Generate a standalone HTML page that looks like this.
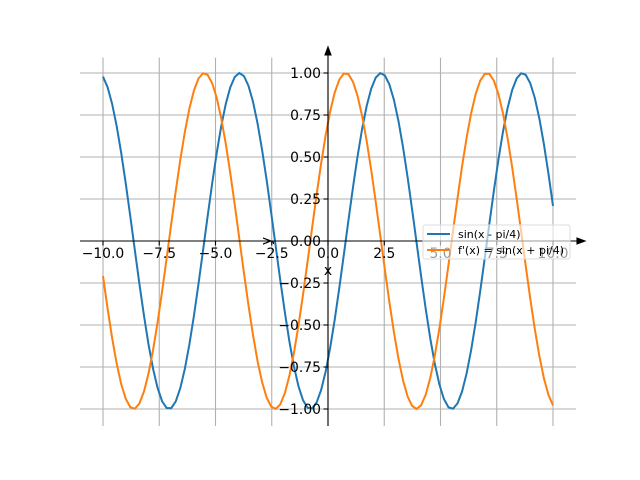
<!DOCTYPE html>
<html><head><meta charset="utf-8"><style>body{margin:0;background:#fff}svg{display:block}</style></head>
<body>
<svg id="s" width="640" height="480" xmlns="http://www.w3.org/2000/svg" font-family="DejaVu Sans, Liberation Sans, sans-serif" font-size="13.9">
<g id="grid" stroke="#b0b0b0" stroke-width="1.1"></g>
<g id="curves" fill="none" stroke-width="2"></g>
<g id="axes" stroke="#000" stroke-width="1.1"></g>
<g id="labels" fill="#000"></g>
</svg>
<script>
const ns="http://www.w3.org/2000/svg";
const X=x=>328+x*22.5, Y=y=>241-y*168;
function el(p,t,a,txt){const e=document.createElementNS(ns,t);for(const k in a)e.setAttribute(k,a[k]);if(txt!==undefined)e.textContent=txt;document.getElementById(p).appendChild(e);return e;}
for(let v=-10;v<=10;v+=2.5){el('grid','line',{x1:X(v),x2:X(v),y1:57.6,y2:426});}
for(let v=-1;v<=1.001;v+=0.25){el('grid','line',{x1:80,x2:576,y1:Y(v),y2:Y(v)});}
function pts(f){let s=[];for(let i=0;i<100;i++){const x=-10+20*i/99;s.push(X(x).toFixed(2)+','+Y(f(x)).toFixed(2));}return s.join(' ');}
el('curves','polyline',{points:pts(x=>Math.sin(x-Math.PI/4)),stroke:'#1f77b4'});
el('curves','polyline',{points:pts(x=>Math.sin(x+Math.PI/4)),stroke:'#ff7f0e'});
el('axes','line',{x1:328,x2:328,y1:55,y2:426});
el('axes','line',{x1:80,x2:578,y1:241,y2:241});
el('axes','polygon',{points:'328,47 325,55 331,55',fill:'#000'});
el('axes','polygon',{points:'585,241 577,238 577,244',fill:'#000'});
for(let v=-10;v<=10;v+=2.5){el('axes','line',{x1:X(v),x2:X(v),y1:241,y2:245.5});
 el('labels','text',{x:X(v),y:258,'text-anchor':'middle'},(v<0?'\u2212':'')+Math.abs(v).toFixed(1));}
for(let v=-1;v<=1.001;v+=0.25){el('axes','line',{x1:323.5,x2:328,y1:Y(v),y2:Y(v)});
 el('labels','text',{x:321,y:Y(v)+5,'text-anchor':'end'},(v<-0.001?'\u2212':'')+Math.abs(v).toFixed(2));}
el('labels','text',{x:328,y:275,'text-anchor':'middle'},'x');
el('labels','text',{x:0,y:0,'text-anchor':'middle',transform:'translate(271,241) rotate(-90)'},'y');
el('labels','rect',{x:423,y:225,width:147,height:34,rx:2,fill:'#fff','fill-opacity':0.6,stroke:'#ddd','stroke-width':1});
el('labels','line',{x1:427,x2:450,y1:234,y2:234,stroke:'#1f77b4','stroke-width':2});
el('labels','line',{x1:427,x2:450,y1:250,y2:250,stroke:'#ff7f0e','stroke-width':2});
el('labels','text',{x:458,y:238,'font-size':11},'sin(x - pi/4)');
el('labels','text',{x:458,y:254,'font-size':11},"f'(x) = sin(x + pi/4)");
</script>
</body></html>
